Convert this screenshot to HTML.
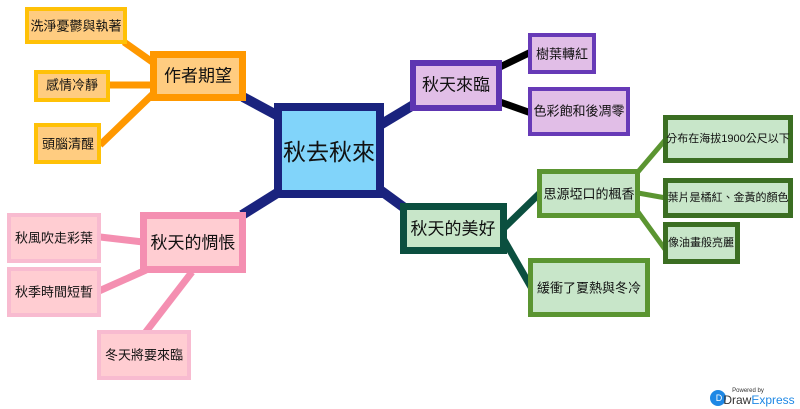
<!DOCTYPE html>
<html><head><meta charset="utf-8"><style>
html,body{margin:0;padding:0;background:#fff;width:800px;height:409px;overflow:hidden}
text{font-family:"Liberation Sans","Noto Sans CJK TC",sans-serif;fill:#111;text-anchor:middle;dominant-baseline:central}
</style></head><body>
<svg width="800" height="409" viewBox="0 0 800 409" xmlns="http://www.w3.org/2000/svg">
<g stroke-linecap="butt">
<g stroke="#1a237e" stroke-width="10">
<line x1="243" y1="97" x2="282" y2="118"/>
<line x1="380" y1="125" x2="415" y2="104"/>
<line x1="380" y1="190" x2="406" y2="209"/>
<line x1="282" y1="190" x2="242" y2="215"/>
</g>
<g stroke="#ff9800" stroke-width="7">
<line x1="124" y1="42" x2="158" y2="66"/>
<line x1="108" y1="85" x2="152" y2="85"/>
<line x1="100" y1="145" x2="155" y2="92"/>
</g>
<g stroke="#000" stroke-width="7">
<line x1="500" y1="67" x2="531" y2="52"/>
<line x1="500" y1="102" x2="531" y2="113"/>
</g>
<g stroke="#0b4f3f" stroke-width="7">
<line x1="504" y1="228" x2="540" y2="193"/>
<line x1="504" y1="240" x2="531" y2="287"/>
</g>
<g stroke="#5b9531" stroke-width="5">
<line x1="637" y1="173" x2="666" y2="139"/>
<line x1="638" y1="193" x2="666" y2="198"/>
<line x1="638" y1="212" x2="667" y2="252"/>
</g>
<g stroke="#f48fb1" stroke-width="7">
<line x1="100" y1="237" x2="143" y2="242"/>
<line x1="99" y1="291" x2="146" y2="270"/>
<line x1="145" y1="333" x2="192" y2="272"/>
</g>
</g>
<rect x="278" y="107" width="102" height="87" fill="#81d4fa" stroke="#1a237e" stroke-width="8"/>
<text x="329" y="152" font-size="23">秋去秋來</text>
<rect x="153.5" y="54.5" width="89" height="43" fill="#ffcc80" stroke="#ff9800" stroke-width="7"/>
<text x="198" y="76" font-size="17">作者期望</text>
<rect x="27" y="9" width="98" height="33" fill="#ffcc80" stroke="#ffc107" stroke-width="4"/>
<text x="76" y="26" font-size="13">洗淨憂鬱與執著</text>
<rect x="36" y="72" width="72" height="28" fill="#ffcc80" stroke="#ffc107" stroke-width="4"/>
<text x="72" y="85" font-size="13">感情冷靜</text>
<rect x="36" y="125" width="63" height="37" fill="#ffcc80" stroke="#ffc107" stroke-width="4"/>
<text x="68" y="144" font-size="13">頭腦清醒</text>
<rect x="413" y="63" width="86" height="45" fill="#e1bee7" stroke="#5e35b1" stroke-width="6"/>
<text x="456" y="85" font-size="17">秋天來臨</text>
<rect x="530" y="35" width="64" height="37" fill="#e1bee7" stroke="#673ab7" stroke-width="4"/>
<text x="562" y="54" font-size="13">樹葉轉紅</text>
<rect x="530" y="89" width="98" height="45" fill="#e1bee7" stroke="#673ab7" stroke-width="4"/>
<text x="579" y="111" font-size="13">色彩飽和後凋零</text>
<rect x="403.5" y="206.5" width="100" height="44" fill="#c8e6c9" stroke="#0b4f3f" stroke-width="7"/>
<text x="453" y="229" font-size="17">秋天的美好</text>
<rect x="539.5" y="171.5" width="98" height="44" fill="#c8e6c9" stroke="#5b9531" stroke-width="5"/>
<text x="589" y="194" font-size="13">思源埡口的楓香</text>
<rect x="665.5" y="117.5" width="125" height="43" fill="#c8e6c9" stroke="#3b6e22" stroke-width="5"/>
<text x="728" y="139" font-size="11">分布在海拔1900公尺以下</text>
<rect x="665.5" y="180.5" width="125" height="35" fill="#c8e6c9" stroke="#3b6e22" stroke-width="5"/>
<text x="728" y="198" font-size="11">葉片是橘紅、金黃的顏色</text>
<rect x="665.5" y="224.5" width="72" height="37" fill="#c8e6c9" stroke="#3b6e22" stroke-width="5"/>
<text x="701" y="243" font-size="11">像油畫般亮麗</text>
<rect x="530.5" y="260.5" width="117" height="54" fill="#c8e6c9" stroke="#5b9531" stroke-width="5"/>
<text x="589" y="288" font-size="13">緩衝了夏熱與冬冷</text>
<rect x="143.5" y="215.5" width="99" height="54" fill="#ffcdd2" stroke="#f48fb1" stroke-width="7"/>
<text x="193" y="243" font-size="17">秋天的惆悵</text>
<rect x="9" y="215" width="90" height="46" fill="#ffcdd2" stroke="#f8bbd0" stroke-width="4"/>
<text x="54" y="238" font-size="13">秋風吹走彩葉</text>
<rect x="9" y="269" width="90" height="46" fill="#ffcdd2" stroke="#f8bbd0" stroke-width="4"/>
<text x="54" y="292" font-size="13">秋季時間短暫</text>
<rect x="99" y="332" width="90" height="46" fill="#ffcdd2" stroke="#f8bbd0" stroke-width="4"/>
<text x="144" y="355" font-size="13">冬天將要來臨</text>
<circle cx="718" cy="398" r="8" fill="#1e88e5"/>
<text x="719" y="398" font-size="9" style="fill:#fff">D</text>
<text x="748" y="391" font-size="6" style="fill:#333">Powered by</text>
<text x="759" y="400" font-size="12"><tspan style="fill:#333">Draw</tspan><tspan style="fill:#1e88e5">Express</tspan></text>
</svg>
</body></html>
